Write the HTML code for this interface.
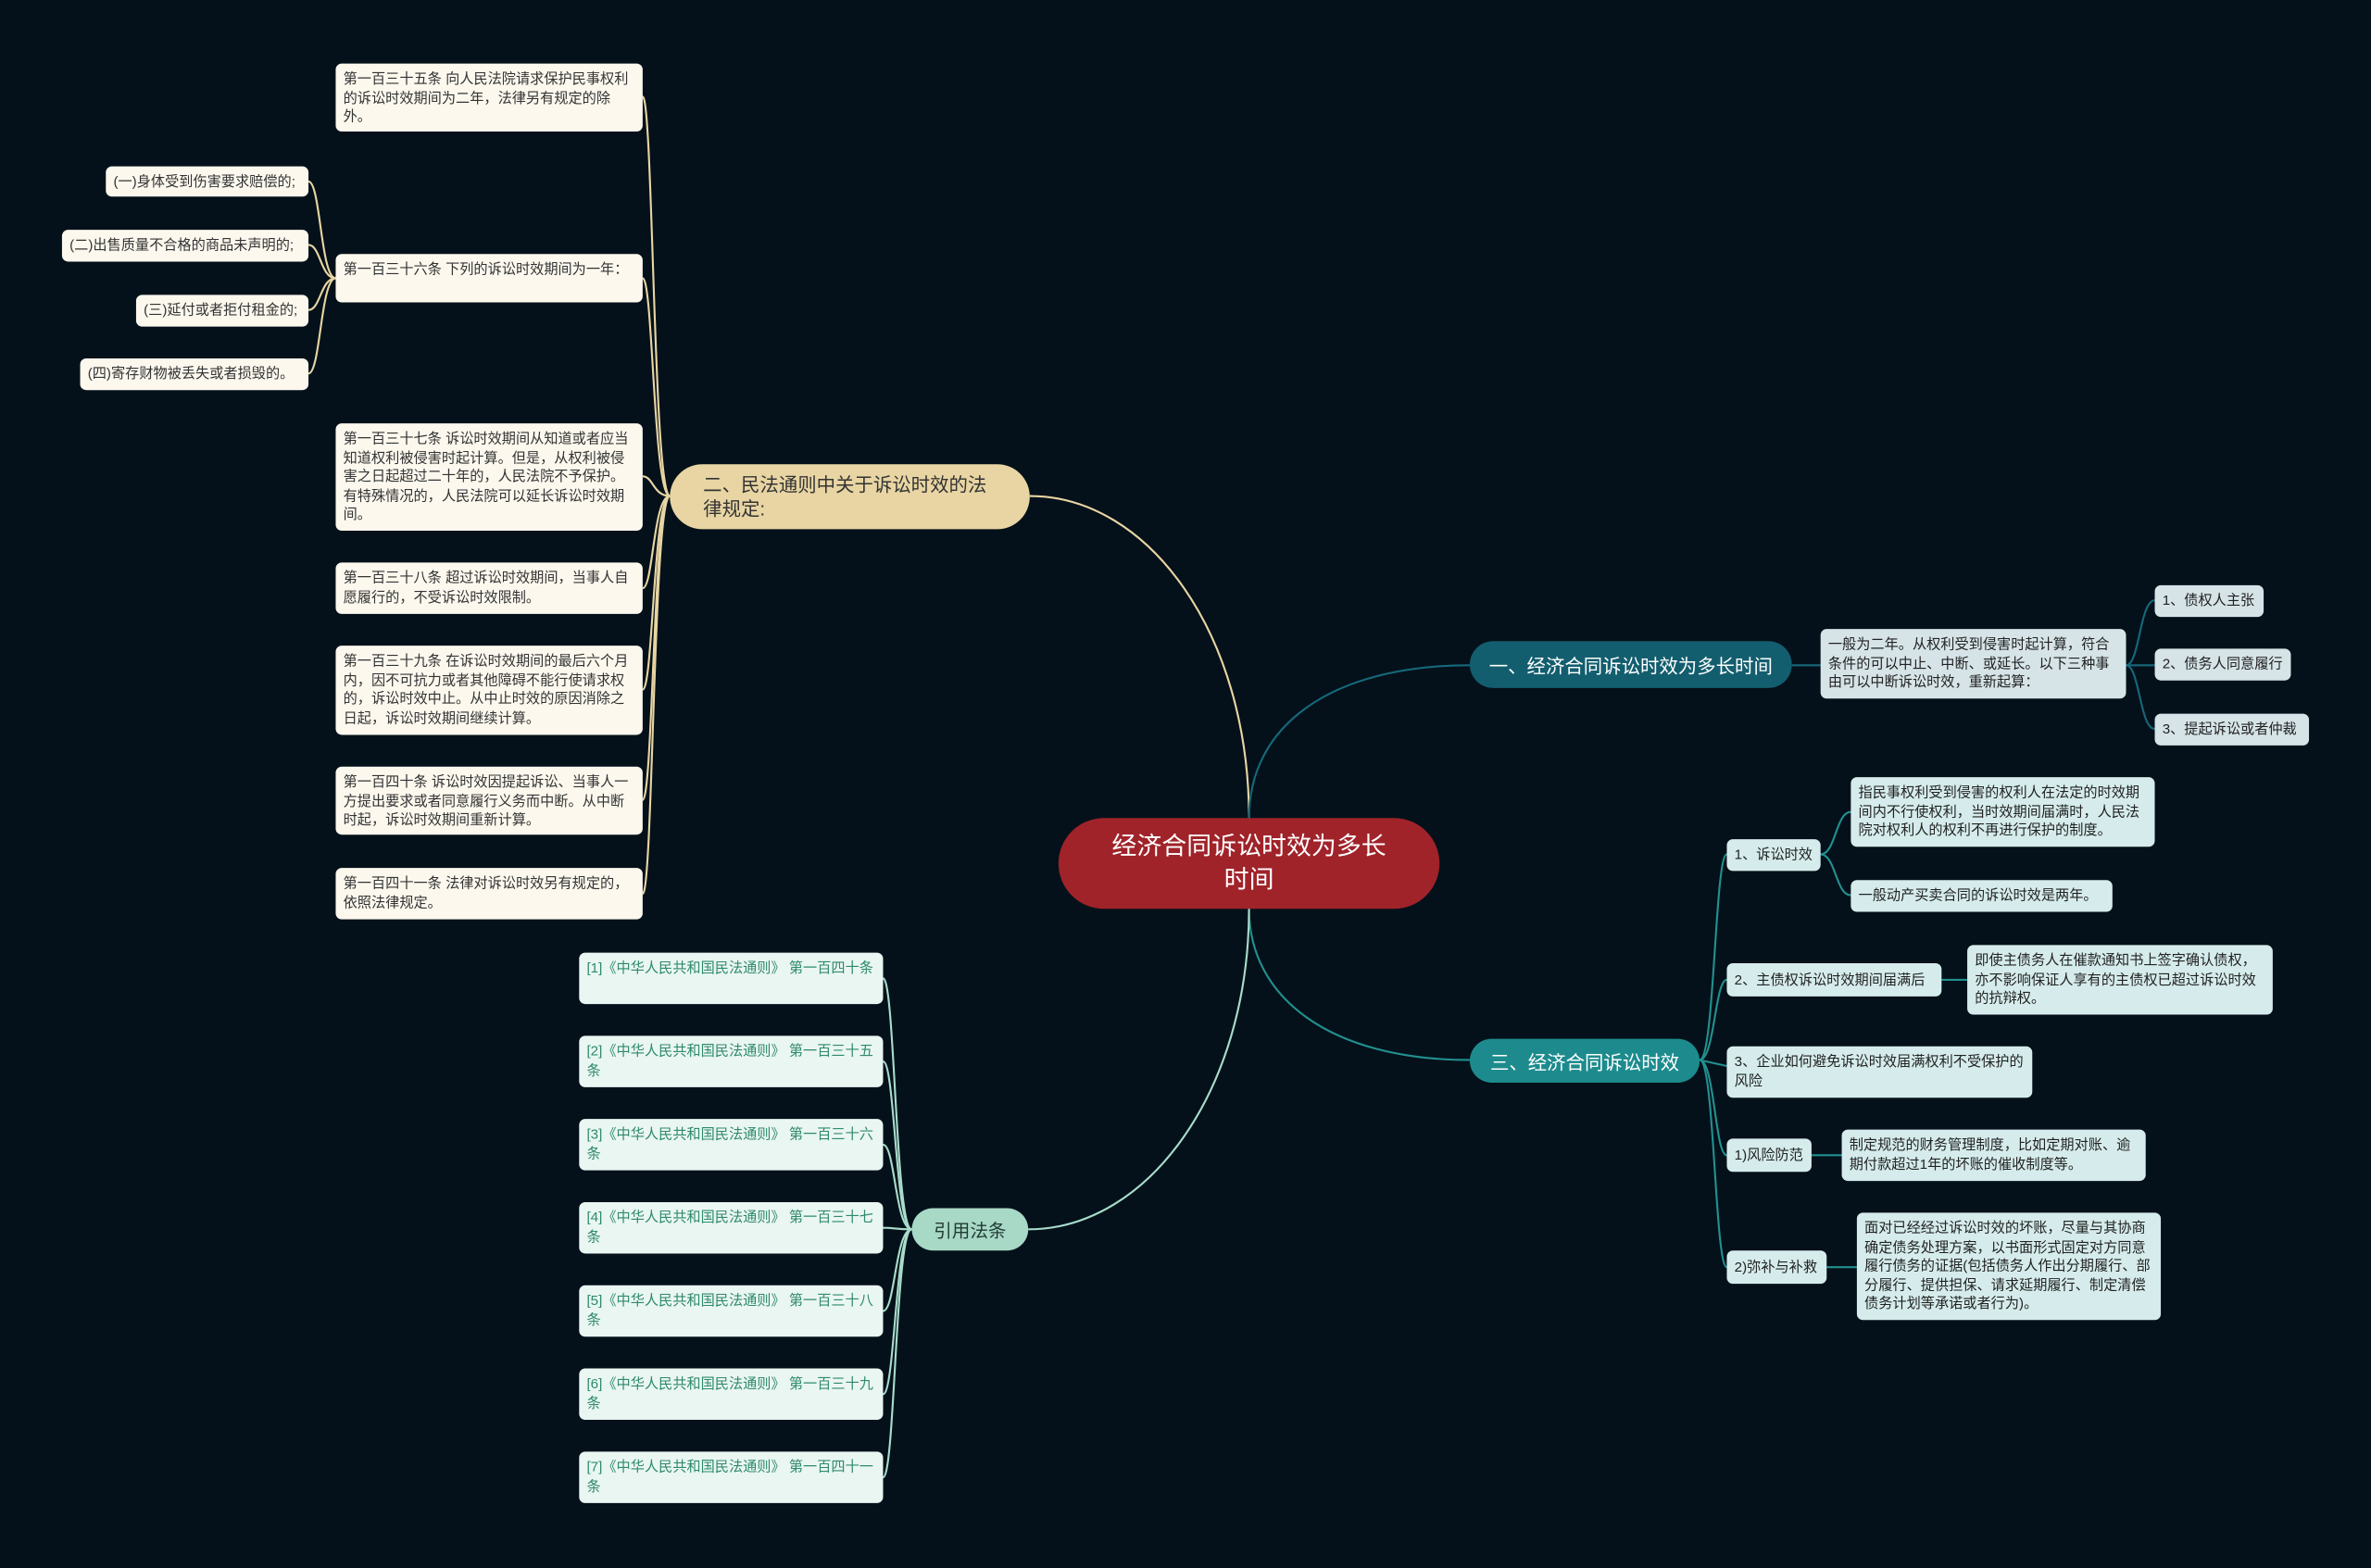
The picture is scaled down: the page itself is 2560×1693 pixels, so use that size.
<!DOCTYPE html>
<html><head><meta charset="utf-8">
<style>
html,body{margin:0;padding:0;background:#04111a;}
body{width:2560px;height:1693px;overflow:hidden;position:relative;}
#st{position:absolute;left:0;top:0;width:1568px;height:1037px;transform:scale(1.63265);transform-origin:0 0;font-family:"Liberation Sans","Noto Sans CJK SC",sans-serif;}
.n{position:absolute;box-sizing:border-box;border-radius:4px;font-size:9.3px;line-height:12.5px;padding:4px 4px 4px 5px;word-break:break-all;overflow:hidden;}
.s{white-space:nowrap;padding:0 3px 0 5px;display:flex;align-items:center;}
.c{background:#fcf8ee;color:#333;}
.b{background:#d6e4e8;color:#222;}
.t{background:#d6ecec;color:#222;}
.r{background:#eaf6f2;color:#2f8a6c;}
.m{position:absolute;box-sizing:border-box;display:flex;align-items:center;justify-content:center;text-align:center;border-radius:30px;}
svg{position:absolute;left:0;top:0;}
</style></head><body><div id="st">
<svg width="1568" height="1037" fill="none" stroke-width="1.3">
<g stroke="#e8d5a3">
<path d="M826,541 C826,420 760,328 681,328"/>
<path d="M443,328 C432,328 432,64 425,64"/>
<path d="M443,328 C432,328 432,184 425,184"/>
<path d="M443,328 C432,328 432,315 425,315"/>
<path d="M443,328 C432,328 432,389 425,389"/>
<path d="M443,328 C432,328 432,456 425,456"/>
<path d="M443,328 C432,328 432,529 425,529"/>
<path d="M443,328 C432,328 432,591 425,591"/>
<path d="M222,184 C212,184 212,120 204,120"/>
<path d="M222,184 C212,184 212,162 204,162"/>
<path d="M222,184 C212,184 212,205 204,205"/>
<path d="M222,184 C212,184 212,247 204,247"/>
</g>
<g stroke="#16687a">
<path d="M826,541 C826,480 880,440 972,440"/>
<path d="M1185,440 L1204,440"/>
<path d="M1406,440 C1415,440 1415,397 1425,397"/>
<path d="M1406,440 L1425,440"/>
<path d="M1406,440 C1415,440 1415,482 1425,482"/>
</g>
<g stroke="#22908f">
<path d="M826,601 C826,660 880,701 972,701"/>
<path d="M1124,701 C1134,701 1134,565 1142,565"/>
<path d="M1124,701 C1134,701 1134,648 1142,648"/>
<path d="M1124,701 L1142,705"/>
<path d="M1124,701 C1134,701 1134,764 1142,764"/>
<path d="M1124,701 C1134,701 1134,838 1142,838"/>
<path d="M1204,565 C1214,565 1214,537 1224,537"/>
<path d="M1204,565 C1214,565 1214,592 1224,592"/>
<path d="M1284,648 L1301,648"/>
<path d="M1198,764 L1218,764"/>
<path d="M1208,838 L1228,838"/>
</g>
<g stroke="#a8dccb">
<path d="M826,601 C826,720 760,813 680,813"/>
<path d="M603,813 C592,813 592,647 584,647"/>
<path d="M603,813 C592,813 592,702 584,702"/>
<path d="M603,813 C592,813 592,757 584,757"/>
<path d="M603,813 C592,813 592,812 584,812"/>
<path d="M603,813 C592,813 592,867 584,867"/>
<path d="M603,813 C592,813 592,922 584,922"/>
<path d="M603,813 C592,813 592,977 584,977"/>
</g>
</svg>

<div class="m" style="left:700px;top:541px;width:252px;height:60px;background:#a0232a;color:#fff;font-size:16.5px;line-height:22px;padding:0 30px;">经济合同诉讼时效为多长时间</div>

<div class="m" style="left:443px;top:307px;width:238px;height:43px;background:#e8d5a3;color:#333;font-size:12.5px;line-height:16px;justify-content:flex-start;text-align:left;padding:0 22px;">二、民法通则中关于诉讼时效的法律规定:</div>

<div class="n c" style="left:222px;top:42px;width:203px;height:45px;">第一百三十五条 向人民法院请求保护民事权利的诉讼时效期间为二年，法律另有规定的除外。</div>
<div class="n c" style="left:222px;top:168px;width:203px;height:32px;">第一百三十六条 下列的诉讼时效期间为一年：</div>
<div class="n c" style="left:222px;top:280px;width:203px;height:71px;">第一百三十七条 诉讼时效期间从知道或者应当知道权利被侵害时起计算。但是，从权利被侵害之日起超过二十年的，人民法院不予保护。有特殊情况的，人民法院可以延长诉讼时效期间。</div>
<div class="n c" style="left:222px;top:372px;width:203px;height:34px;">第一百三十八条 超过诉讼时效期间，当事人自愿履行的，不受诉讼时效限制。</div>
<div class="n c" style="left:222px;top:427px;width:203px;height:59px;">第一百三十九条 在诉讼时效期间的最后六个月内，因不可抗力或者其他障碍不能行使请求权的，诉讼时效中止。从中止时效的原因消除之日起，诉讼时效期间继续计算。</div>
<div class="n c" style="left:222px;top:507px;width:203px;height:45px;">第一百四十条 诉讼时效因提起诉讼、当事人一方提出要求或者同意履行义务而中断。从中断时起，诉讼时效期间重新计算。</div>
<div class="n c" style="left:222px;top:574px;width:203px;height:34px;">第一百四十一条 法律对诉讼时效另有规定的，依照法律规定。</div>

<div class="n c s" style="left:70px;top:110px;width:134px;height:20px;">(一)身体受到伤害要求赔偿的;</div>
<div class="n c s" style="left:41px;top:152px;width:163px;height:21px;">(二)出售质量不合格的商品未声明的;</div>
<div class="n c s" style="left:90px;top:195px;width:114px;height:21px;">(三)延付或者拒付租金的;</div>
<div class="n c s" style="left:53px;top:237px;width:151px;height:21px;">(四)寄存财物被丢失或者损毁的。</div>

<div class="m" style="left:972px;top:424px;width:213px;height:31px;background:#135e6e;color:#fff;font-size:12.5px;">一、经济合同诉讼时效为多长时间</div>
<div class="n b" style="left:1204px;top:416px;width:202px;height:46px;">一般为二年。从权利受到侵害时起计算，符合条件的可以中止、中断、或延长。以下三种事由可以中断诉讼时效，重新起算：</div>
<div class="n b s" style="left:1425px;top:387px;width:72px;height:21px;">1、债权人主张</div>
<div class="n b s" style="left:1425px;top:429px;width:90px;height:21px;">2、债务人同意履行</div>
<div class="n b s" style="left:1425px;top:472px;width:102px;height:21px;">3、提起诉讼或者仲裁</div>

<div class="m" style="left:972px;top:687px;width:152px;height:29px;background:#1d8b8d;color:#fff;font-size:12.5px;">三、经济合同诉讼时效</div>
<div class="n t s" style="left:1142px;top:555px;width:62px;height:21px;">1、诉讼时效</div>
<div class="n t" style="left:1224px;top:514px;width:201px;height:46px;">指民事权利受到侵害的权利人在法定的时效期间内不行使权利，当时效期间届满时，人民法院对权利人的权利不再进行保护的制度。</div>
<div class="n t s" style="left:1224px;top:582px;width:173px;height:21px;">一般动产买卖合同的诉讼时效是两年。</div>
<div class="n t s" style="left:1142px;top:637px;width:142px;height:22px;">2、主债权诉讼时效期间届满后</div>
<div class="n t" style="left:1301px;top:625px;width:202px;height:46px;">即使主债务人在催款通知书上签字确认债权，亦不影响保证人享有的主债权已超过诉讼时效的抗辩权。</div>
<div class="n t" style="left:1142px;top:692px;width:202px;height:34px;">3、企业如何避免诉讼时效届满权利不受保护的风险</div>
<div class="n t s" style="left:1142px;top:753px;width:56px;height:22px;">1)风险防范</div>
<div class="n t" style="left:1218px;top:747px;width:201px;height:34px;">制定规范的财务管理制度，比如定期对账、逾期付款超过1年的坏账的催收制度等。</div>
<div class="n t s" style="left:1142px;top:827px;width:66px;height:22px;">2)弥补与补救</div>
<div class="n t" style="left:1228px;top:802px;width:201px;height:71px;">面对已经经过诉讼时效的坏账，尽量与其协商确定债务处理方案，以书面形式固定对方同意履行债务的证据(包括债务人作出分期履行、部分履行、提供担保、请求延期履行、制定清偿债务计划等承诺或者行为)。</div>

<div class="m" style="left:603px;top:799px;width:77px;height:28px;background:#a8d8c6;color:#1f3a33;font-size:12px;">引用法条</div>
<div class="n r" style="left:383px;top:630px;width:201px;height:34px;">[1]《中华人民共和国民法通则》 第一百四十条</div>
<div class="n r" style="left:383px;top:685px;width:201px;height:34px;">[2]《中华人民共和国民法通则》 第一百三十五条</div>
<div class="n r" style="left:383px;top:740px;width:201px;height:34px;">[3]《中华人民共和国民法通则》 第一百三十六条</div>
<div class="n r" style="left:383px;top:795px;width:201px;height:34px;">[4]《中华人民共和国民法通则》 第一百三十七条</div>
<div class="n r" style="left:383px;top:850px;width:201px;height:34px;">[5]《中华人民共和国民法通则》 第一百三十八条</div>
<div class="n r" style="left:383px;top:905px;width:201px;height:34px;">[6]《中华人民共和国民法通则》 第一百三十九条</div>
<div class="n r" style="left:383px;top:960px;width:201px;height:34px;">[7]《中华人民共和国民法通则》 第一百四十一条</div>
</div></body></html>
